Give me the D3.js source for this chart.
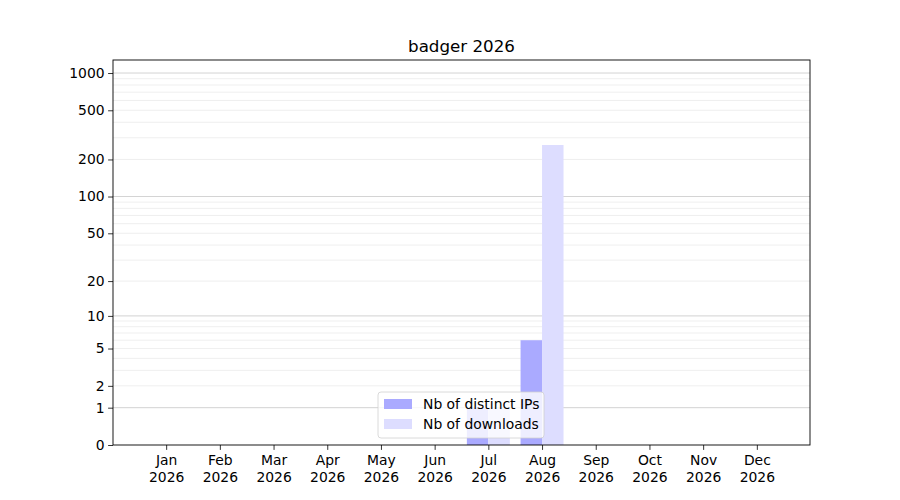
<!DOCTYPE html>
<html>
<head>
<meta charset="utf-8">
<script src="https://cdn.jsdelivr.net/npm/d3@7"></script>
<style>
  body { margin: 0; background: #fff; }
  text { font-family: "DejaVu Sans", sans-serif; }
</style>
</head>
<body>
<div id="chart"></div>
<script>
// Data
const months = ["Jan", "Feb", "Mar", "Apr", "May", "Jun", "Jul", "Aug", "Sep", "Oct", "Nov", "Dec"];
const year = "2026";
const distinctIPs = [0, 0, 0, 0, 0, 0, 1, 6, 0, 0, 0, 0];
const downloads = [0, 0, 0, 0, 0, 0, 1, 262, 0, 0, 0, 0];
const yTicks = [0, 1, 2, 5, 10, 20, 50, 100, 200, 500, 1000];
const majorGrid = [1, 10, 100, 1000];
const minorGrid = [2, 3, 4, 5, 6, 7, 8, 9, 20, 30, 40, 50, 60, 70, 80, 90, 200, 300, 400, 500, 600, 700, 800, 900];

const W = 900, H = 500;
const margin = { top: 60, right: 90, bottom: 55, left: 113 };
const width = W - margin.left - margin.right;
const height = H - margin.top - margin.bottom;

const svg = d3.select("#chart")
    .append("svg")
    .attr("width", W)
    .attr("height", H);

const g = svg.append("g")
    .attr("transform", `translate(${margin.left},${margin.top})`);

// x: month index 1..12, bars of width 0.4 either side of the tick
const x = d3.scaleLinear()
    .domain([0.01, 12.99])
    .range([0, width]);

// y: log(1 + v)
const y = d3.scaleSymlog()
    .constant(1)
    .domain([0, 1274])
    .range([height, 0]);

// gridlines
g.append("g").selectAll("line")
    .data(minorGrid)
    .enter().append("line")
    .attr("x1", 0).attr("x2", width)
    .attr("y1", d => y(d)).attr("y2", d => y(d))
    .attr("stroke", "#ebebeb")
    .attr("stroke-width", 0.8);

g.append("g").selectAll("line")
    .data(majorGrid)
    .enter().append("line")
    .attr("x1", 0).attr("x2", width)
    .attr("y1", d => y(d)).attr("y2", d => y(d))
    .attr("stroke", "#c8c8c8")
    .attr("stroke-width", 0.8);

const bw = x(0.4) - x(0);

// bars
g.append("g").selectAll("rect")
    .data(distinctIPs)
    .enter().append("rect")
    .attr("x", (d, i) => x(i + 1 - 0.4))
    .attr("y", d => y(d))
    .attr("width", bw)
    .attr("height", d => height - y(d))
    .attr("fill", "#aaaaff");

g.append("g").selectAll("rect")
    .data(downloads)
    .enter().append("rect")
    .attr("x", (d, i) => x(i + 1))
    .attr("y", d => y(d))
    .attr("width", bw)
    .attr("height", d => height - y(d))
    .attr("fill", "#ddddff");

// axes
const xAxis = d3.axisBottom(x)
    .tickValues(d3.range(1, 13))
    .tickSize(4.9)
    .tickPadding(5.5)
    .tickFormat(() => "");

const xg = g.append("g")
    .attr("transform", `translate(0,${height})`)
    .call(xAxis);

xg.selectAll(".tick text")
    .attr("font-size", 13.9)
    .attr("fill", "#000")
    .each(function(d) {
        const t = d3.select(this);
        t.append("tspan").attr("x", 0).attr("dy", "0.72em").text(months[d - 1]);
        t.append("tspan").attr("x", 0).attr("dy", "1.16em").text(year);
    });

const yAxis = d3.axisLeft(y)
    .tickValues(yTicks)
    .tickSize(4.9)
    .tickPadding(3.5)
    .tickFormat(d3.format("d"));

const yg = g.append("g").call(yAxis);
yg.selectAll(".tick text").attr("font-size", 13.9).attr("fill", "#000");

[xg, yg].forEach(a => {
    a.select(".domain").remove();
    a.selectAll(".tick line").attr("stroke", "#000").attr("stroke-width", 0.8);
});

// frame
g.append("rect")
    .attr("width", width)
    .attr("height", height)
    .attr("fill", "none")
    .attr("stroke", "#000")
    .attr("stroke-width", 0.9);

// title
svg.append("text")
    .attr("x", margin.left + width / 2)
    .attr("y", 52)
    .attr("text-anchor", "middle")
    .attr("font-size", 16.7)
    .text(`badger ${year}`);

// legend
const legend = g.append("g")
    .attr("transform", `translate(${378 - margin.left},${392 - margin.top})`);

legend.append("rect")
    .attr("width", 166)
    .attr("height", 46)
    .attr("rx", 3)
    .attr("fill", "#fff")
    .attr("fill-opacity", 0.8)
    .attr("stroke", "#d0d0d0")
    .attr("stroke-width", 0.8);

const items = [
    { label: "Nb of distinct IPs", color: "#aaaaff" },
    { label: "Nb of downloads", color: "#ddddff" }
];

items.forEach((it, i) => {
    legend.append("rect")
        .attr("x", 6)
        .attr("y", 7 + i * 20)
        .attr("width", 28)
        .attr("height", 10)
        .attr("fill", it.color);
    legend.append("text")
        .attr("x", 45)
        .attr("y", 12 + i * 20)
        .attr("dy", "0.35em")
        .attr("font-size", 13.9)
        .text(it.label);
});
</script>
</body>
</html>
